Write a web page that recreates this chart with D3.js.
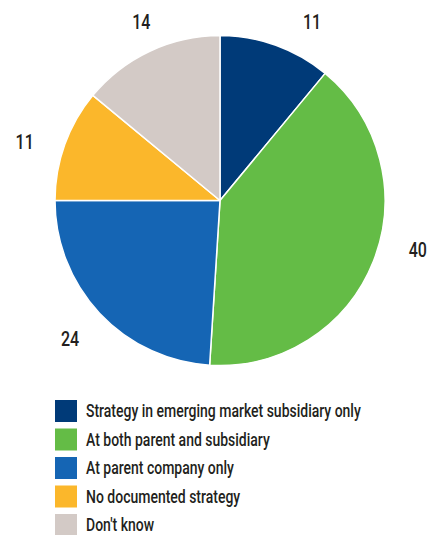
<!DOCTYPE html>
<html>
<head>
<meta charset="utf-8">
<script src="https://cdn.jsdelivr.net/npm/d3@7"></script>
<style>
  html, body { margin: 0; padding: 0; background: #fff; }
  svg text { font-family: Roboto, "Noto Sans", sans-serif; fill: #231f20; }
</style>
</head>
<body>
<svg id="chart" width="430" height="535"></svg>
<script>
// Where the strategy is documented (share of respondents, %)
const categories = [
  "Strategy in emerging market subsidiary only",
  "At both parent and subsidiary",
  "At parent company only",
  "No documented strategy",
  "Don't know"
];
const values = [11, 40, 24, 11, 14];
const colors = ["#003a78", "#64bc46", "#1565b4", "#fbb72b", "#d3cac6"];

const svg = d3.select("#chart");
const cx = 220, cy = 200.5, radius = 165;
const condense = 0.8; // horizontal squeeze for a condensed typeface look

const pie = d3.pie().sort(null).value(d => d)(values);
const arc = d3.arc().innerRadius(0).outerRadius(radius);

const g = svg.append("g").attr("transform", `translate(${cx},${cy})`);

g.selectAll("path.slice")
  .data(pie)
  .join("path")
  .attr("class", "slice")
  .attr("d", arc)
  .attr("fill", (d, i) => colors[i])
  .attr("stroke", "#fff")
  .attr("stroke-width", 1.5)
  .attr("stroke-linejoin", "round");

// value labels outside each slice; small angular shifts (degrees) keep them clear of neighbours
const labelShift = [7, -7.5, 0.5, -3, 2.5];
const labelR = 204;
g.selectAll("text.value")
  .data(pie)
  .join("text")
  .attr("class", "value")
  .attr("transform", (d, i) => {
    const a = (d.startAngle + d.endAngle) / 2 + labelShift[i] * Math.PI / 180;
    const x = labelR * Math.sin(a);
    const y = Math.max(-labelR * Math.cos(a), -179);
    return `translate(${x},${y}) scale(${condense},1)`;
  })
  .attr("text-anchor", "middle")
  .attr("dominant-baseline", "central")
  .style("font-size", "20px")
  .style("font-weight", "500")
  .text(d => d.data);

// legend
const legend = svg.append("g").attr("transform", "translate(55,400)");
const rowH = 28.5;
const items = legend.selectAll("g.item")
  .data(categories)
  .join("g")
  .attr("class", "item")
  .attr("transform", (d, i) => `translate(0,${i * rowH})`);

items.append("rect")
  .attr("width", 22)
  .attr("height", 22)
  .attr("fill", (d, i) => colors[i]);

items.append("text")
  .attr("transform", `translate(31,11) scale(${condense},1)`)
  .attr("dominant-baseline", "central")
  .style("font-size", "17.5px")
  .style("font-weight", "500")
  .text(d => d);
</script>
</body>
</html>
